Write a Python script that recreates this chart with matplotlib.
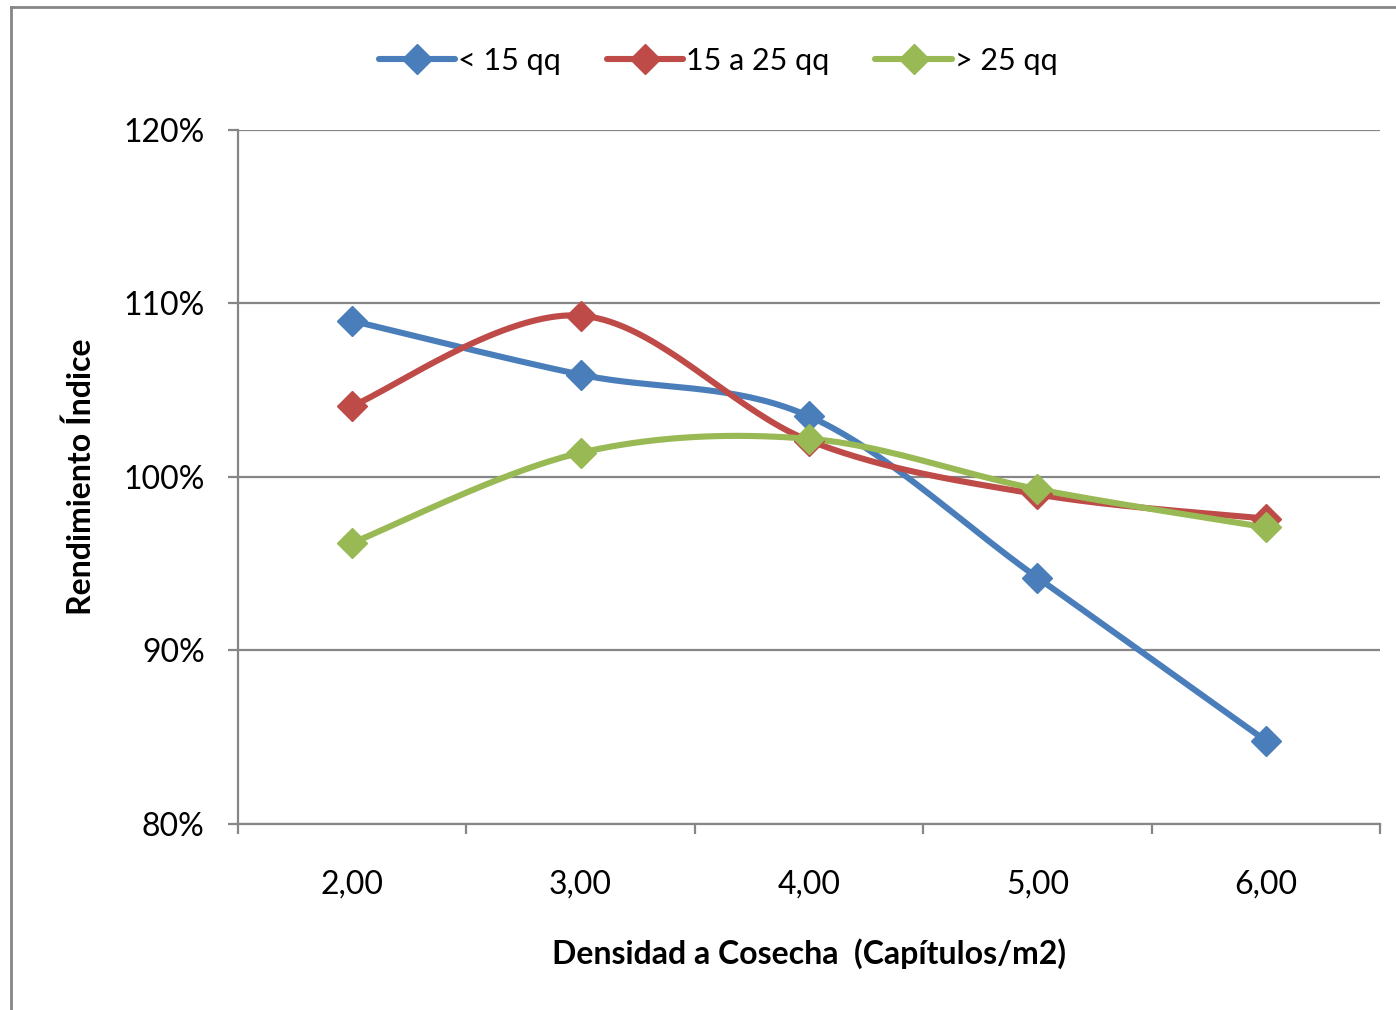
import numpy as np
import matplotlib
matplotlib.use("Agg")
import matplotlib.pyplot as plt
from matplotlib.lines import Line2D
from matplotlib.ticker import FixedLocator, FuncFormatter

plt.rcParams['font.family'] = ['Lato', 'DejaVu Sans']

categories = ["2,00", "3,00", "4,00", "5,00", "6,00"]
series_names = ["< 15 qq", "15 a 25 qq", "> 25 qq"]
low = [109.0, 105.9, 103.5, 94.2, 84.8]
mid = [104.1, 109.3, 102.1, 99.0, 97.6]
high = [96.2, 101.4, 102.2, 99.3, 97.1]
colors = ["#4A7EBB", "#BE4B48", "#98B954"]
y_ticks = [80, 90, 100, 110, 120]


def smooth(xs, ys, n=40):
    xs = np.asarray(xs, float)
    ys = np.asarray(ys, float)
    P = np.column_stack([xs, ys])
    Pext = np.vstack([P[0], P, P[-1]])
    out = []
    for i in range(len(P) - 1):
        p0, p1, p2, p3 = Pext[i], Pext[i + 1], Pext[i + 2], Pext[i + 3]
        c1 = p1 + (p2 - p0) / 6.0
        c2 = p2 - (p3 - p1) / 6.0
        t = np.linspace(0, 1, n)[:, None]
        seg = ((1 - t) ** 3) * p1 + 3 * ((1 - t) ** 2) * t * c1 + 3 * (1 - t) * t ** 2 * c2 + t ** 3 * p2
        out.append(seg if i == 0 else seg[1:])
    s = np.vstack(out)
    return s[:, 0], s[:, 1]


fig = plt.figure(figsize=(13.96, 10.10), dpi=100)
ax = fig.add_axes([238 / 1396, 1 - 824 / 1010, (1380 - 238) / 1396, (824 - 130) / 1010])

x = np.arange(len(categories))
handles = []
for vals, col, name in zip([low, mid, high], colors, series_names):
    sx, sy = smooth(x, vals)
    ax.plot(sx, sy, color=col, lw=4.4, solid_capstyle='round', zorder=3)
    ax.plot(x, vals, linestyle='none', marker='D', ms=15.5, color=col, zorder=4)
    handles.append(Line2D([0], [0], color=col, lw=4.4, marker='D', ms=15.5, solid_capstyle='round'))

ax.set_xlim(-0.5, len(categories) - 0.5)
ax.set_ylim(80, 120)
ax.set_yticks(y_ticks)
ax.yaxis.set_major_formatter(FuncFormatter(lambda v, p: f"{int(round(v))}%"))
ax.grid(axis='y', color='#868686', lw=1.6, zorder=1)
ax.set_axisbelow(True)

ax.set_xticks(x)
ax.set_xticklabels(categories)
ax.xaxis.set_minor_locator(FixedLocator(np.arange(-0.5, len(categories), 1.0)))
ax.tick_params(axis='x', which='major', length=0, pad=33, labelsize=23)
ax.tick_params(axis='x', which='minor', length=7, width=1.6, color='#868686', direction='out')
ax.tick_params(axis='y', length=7, width=1.6, color='#868686', pad=17, labelsize=23)

for s in ['top', 'right']:
    ax.spines[s].set_visible(False)
for s in ['left', 'bottom']:
    ax.spines[s].set_color('#868686')
    ax.spines[s].set_linewidth(1.6)

ax.set_xlabel("Densidad a Cosecha  (Capítulos/m2)", fontsize=23, fontweight='bold', labelpad=28)
ax.set_ylabel("Rendimiento Índice", fontsize=23, fontweight='bold', labelpad=19.5)

fig.legend(handles, series_names, loc='center', bbox_to_anchor=(718 / 1396, 1 - 61 / 1010),
           ncol=3, frameon=False, fontsize=22, handlelength=2.5, handletextpad=0.1,
           columnspacing=1.5)

# outer chart border
fig.add_artist(Line2D([11 / 1396, 11 / 1396], [0, 1 - 7 / 1010], transform=fig.transFigure,
                      color='#868686', lw=2))
fig.add_artist(Line2D([11 / 1396, 1], [1 - 7 / 1010, 1 - 7 / 1010], transform=fig.transFigure,
                      color='#868686', lw=2))

fig.savefig("out.png", dpi=100)
